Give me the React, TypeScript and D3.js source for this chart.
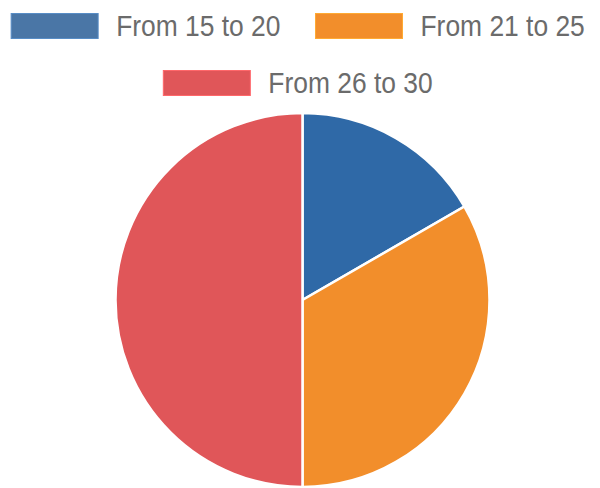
import React, { useEffect, useRef } from "react";
import * as d3 from "d3";

// 연령대별 비율 데이터
const labels = ["From 15 to 20", "From 21 to 25", "From 26 to 30"];
const values = [1, 2, 3];
const sliceColors = ["#2f69a7", "#f28e2b", "#e05659"];
const legendColors = ["#4a76a6", "#f28e2b", "#e05659"];

const W = 600;
const H = 488;

const App: React.FC = () => {
  const svgRef = useRef<SVGSVGElement>(null);

  useEffect(() => {
    if (!svgRef.current) return;
    const svg = d3.select(svgRef.current);
    svg.selectAll("*").remove();

    // 범례 (글꼴이 좁아 보여서 가로로 살짝 눌러줌)
    const rows = [
      [0, 1],
      [2],
    ];
    const boxW = 87;
    const boxH = 25;
    const gap = 18;
    const itemGap = 35;
    const fontSize = 30;
    const squeeze = 0.88;
    const font = "'Liberation Sans', Arial, sans-serif";

    const measure = svg
      .append("text")
      .style("font-family", font)
      .style("font-size", `${fontSize}px`);
    const textW = labels.map((l) => {
      measure.text(l);
      return (measure.node() as SVGTextElement).getComputedTextLength() * squeeze;
    });
    measure.remove();

    const legend = svg.append("g");
    rows.forEach((row, ri) => {
      const widths = row.map((i) => boxW + gap + textW[i]);
      const total = d3.sum(widths) + itemGap * (row.length - 1);
      let x = 298 - total / 2;
      const y = 13.5 + ri * 57;
      row.forEach((i, k) => {
        legend
          .append("rect")
          .attr("x", x)
          .attr("y", y)
          .attr("width", boxW)
          .attr("height", boxH)
          .attr("fill", legendColors[i])
          .attr("stroke", d3.color(legendColors[i])!.brighter(0.5).formatHex())
          .attr("stroke-width", 1);
        legend
          .append("text")
          .attr("transform", `translate(${x + boxW + gap},${y + 22}) scale(${squeeze},1)`)
          .style("font-family", font)
          .style("font-size", `${fontSize}px`)
          .style("fill", "#6b6b6b")
          .text(labels[i]);
        x += widths[k] + itemGap;
      });
    });

    // 파이 차트
    const cx = 302.5;
    const cy = 300;
    const r = 187;
    const pie = d3
      .pie<number>()
      .sort(null)
      .value((d) => d);
    const arc = d3.arc<d3.PieArcDatum<number>>().innerRadius(0).outerRadius(r);

    svg
      .append("g")
      .attr("transform", `translate(${cx},${cy})`)
      .selectAll("path")
      .data(pie(values))
      .join("path")
      .attr("d", arc)
      .attr("fill", (_, i) => sliceColors[i])
      .attr("stroke", "#fff")
      .attr("stroke-width", 2.5);
  }, []);

  return (
    <svg
      ref={svgRef}
      width={W}
      height={H}
      style={{ position: "absolute", left: 0, top: 0, background: "#fff" }}
    />
  );
};

export default App;
